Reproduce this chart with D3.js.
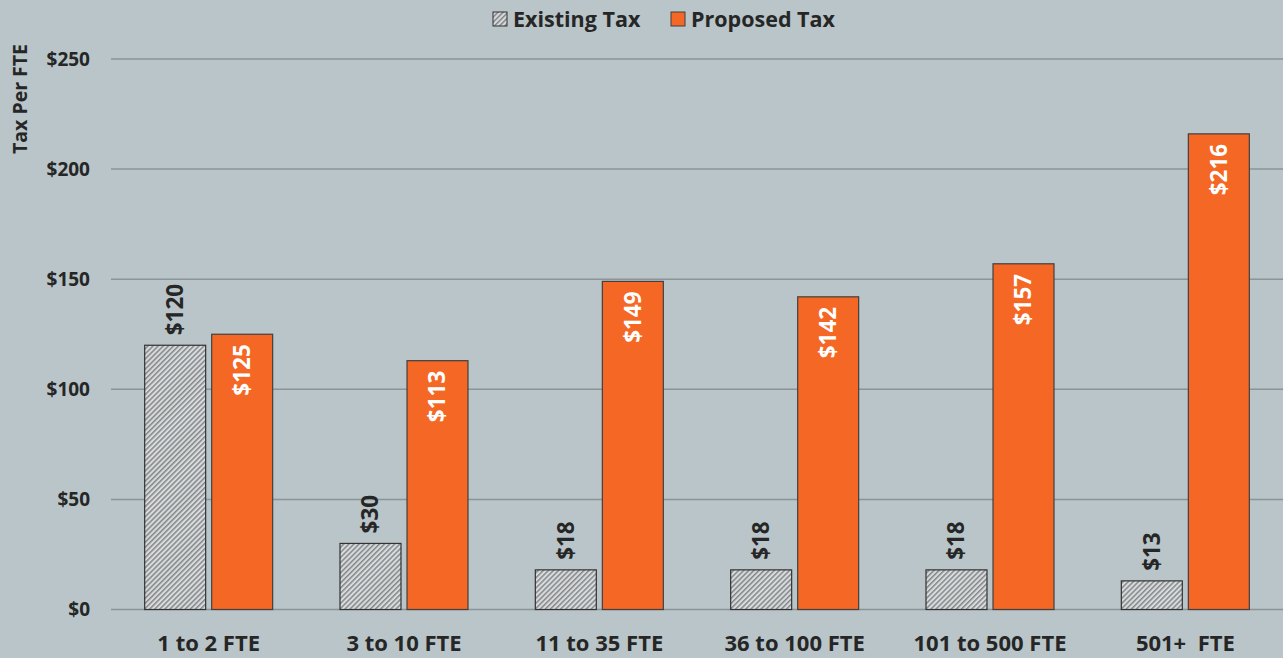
<!DOCTYPE html>
<html lang="en">
<head>
<meta charset="UTF-8">
<title>Tax Per FTE</title>
<script src="https://cdn.jsdelivr.net/npm/d3@7"></script>
<style>
  html, body { margin: 0; padding: 0; background: #b9c5c8; }
  svg { display: block; font-family: "Open Sans", Lato, sans-serif; font-weight: bold; }
</style>
</head>
<body>
<script>
const categories = ['1 to 2 FTE', '3 to 10 FTE', '11 to 35 FTE', '36 to 100 FTE', '101 to 500 FTE', '501+  FTE']
const existingTax = [120, 30, 18, 18, 18, 13]
const proposedTax = [125, 113, 149, 142, 157, 216]
const yTicks = [0, 50, 100, 150, 200, 250]
const seriesNames = ['Existing Tax', 'Proposed Tax']

const width = 1283
const height = 658
const margin = { top: 59, right: 0, bottom: 48, left: 111 }

const svg = d3.select('body').append('svg')
  .attr('width', width)
  .attr('height', height)

const defs = svg.append('defs')
const hatch = defs.append('pattern')
  .attr('id', 'hatch')
  .attr('patternUnits', 'userSpaceOnUse')
  .attr('width', 3.6)
  .attr('height', 3.6)
  .attr('patternTransform', 'rotate(45)')
hatch.append('rect').attr('width', 3.6).attr('height', 3.6).attr('fill', '#d9dbdc')
hatch.append('rect').attr('width', 1.5).attr('height', 3.6).attr('fill', '#83878a')

const x = d3.scaleBand()
  .domain(categories)
  .range([margin.left, width - margin.right])

const inner = d3.scaleBand()
  .domain(seriesNames)
  .range([x.bandwidth() / 2 - 64, x.bandwidth() / 2 + 64])
  .paddingInner(0.09)

const y = d3.scaleLinear()
  .domain([0, 250])
  .range([height - margin.bottom - 0.5, margin.top])

// grid
svg.append('g')
  .selectAll('line')
  .data(yTicks)
  .enter()
  .append('line')
  .attr('x1', margin.left)
  .attr('x2', width)
  .attr('y1', d => y(d))
  .attr('y2', d => y(d))
  .attr('stroke', '#8b9497')
  .attr('stroke-width', 1.5)

svg.append('g')
  .selectAll('text')
  .data(yTicks)
  .enter()
  .append('text')
  .attr('x', 90)
  .attr('y', d => y(d))
  .attr('dy', '0.35em')
  .attr('text-anchor', 'end')
  .attr('font-size', 19)
  .attr('fill', '#262626')
  .text(d => '$' + d)

svg.append('text')
  .attr('transform', 'translate(20,99) rotate(-90)')
  .attr('dy', '0.35em')
  .attr('text-anchor', 'middle')
  .attr('font-size', 19.5)
  .attr('fill', '#262626')
  .text('Tax Per FTE')

const group = svg.append('g')
  .selectAll('g')
  .data(categories)
  .enter()
  .append('g')
  .attr('transform', d => `translate(${x(d)},0)`)

// existing bars
group.append('rect')
  .attr('x', inner('Existing Tax'))
  .attr('y', (d, i) => y(existingTax[i]))
  .attr('width', inner.bandwidth())
  .attr('height', (d, i) => y(0) - y(existingTax[i]))
  .attr('fill', 'url(#hatch)')
  .attr('stroke', '#333')
  .attr('stroke-width', 1.2)

group.append('rect')
  .attr('x', inner('Proposed Tax'))
  .attr('y', (d, i) => y(proposedTax[i]))
  .attr('width', inner.bandwidth())
  .attr('height', (d, i) => y(0) - y(proposedTax[i]))
  .attr('fill', '#f46724')
  .attr('stroke', '#404040')
  .attr('stroke-width', 1.2)

group.append('text')
  .attr('transform', (d, i) => `translate(${inner('Existing Tax') + inner.bandwidth() / 2},${y(existingTax[i]) - 10}) rotate(-90)`)
  .attr('dy', '0.35em')
  .attr('text-anchor', 'start')
  .attr('font-size', 22.5)
  .attr('fill', '#262626')
  .text((d, i) => '$' + existingTax[i])

group.append('text')
  .attr('transform', (d, i) => `translate(${inner('Proposed Tax') + inner.bandwidth() / 2},${y(proposedTax[i]) + 10}) rotate(-90)`)
  .attr('dy', '0.35em')
  .attr('text-anchor', 'end')
  .attr('font-size', 22.5)
  .attr('fill', '#ffffff')
  .text((d, i) => '$' + proposedTax[i])

group.append('text')
  .attr('x', x.bandwidth() / 2)
  .attr('y', 643)
  .attr('dy', '0.35em')
  .attr('text-anchor', 'middle')
  .attr('font-size', 22)
  .attr('fill', '#262626')
  .style('white-space', 'pre')
  .text(d => d)

// legend
const legend = svg.append('g')
legend.append('rect')
  .attr('x', 493).attr('y', 12).attr('width', 14).attr('height', 14)
  .attr('fill', 'url(#hatch)').attr('stroke', '#333').attr('stroke-width', 1)
legend.append('text')
  .attr('x', 513).attr('y', 19).attr('dy', '0.35em')
  .attr('font-size', 21.5).attr('fill', '#262626')
  .text(seriesNames[0])
legend.append('rect')
  .attr('x', 671).attr('y', 12).attr('width', 14).attr('height', 14)
  .attr('fill', '#f46724').attr('stroke', '#404040').attr('stroke-width', 1)
legend.append('text')
  .attr('x', 691).attr('y', 19).attr('dy', '0.35em')
  .attr('font-size', 21.5).attr('fill', '#262626')
  .text(seriesNames[1])
</script>
</body>
</html>
